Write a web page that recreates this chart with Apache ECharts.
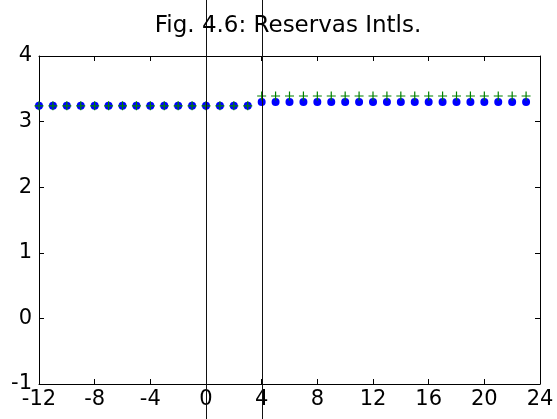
<!DOCTYPE html>
<html>
<head>
<meta charset="utf-8">
<script src="https://cdn.jsdelivr.net/npm/echarts@6/dist/echarts.min.js"></script>
<style>
html,body{margin:0;padding:0;background:#fff;}
#c{width:557px;height:419px;}
</style>
</head>
<body>
<div id="c"></div>
<script>
// Data
var periods = [-12,-11,-10,-9,-8,-7,-6,-5,-4,-3,-2,-1,0,1,2,3,4,5,6,7,8,9,10,11,12,13,14,15,16,17,18,19,20,21,22,23];
var blueDots = [3.24,3.24,3.24,3.24,3.24,3.24,3.24,3.24,3.24,3.24,3.24,3.24,3.24,3.24,3.24,3.24,
                3.30,3.30,3.30,3.30,3.30,3.30,3.30,3.30,3.30,3.30,3.30,3.30,3.30,3.30,3.30,3.30,3.30,3.30,3.30,3.30];
var greenPlus = [3.24,3.24,3.24,3.24,3.24,3.24,3.24,3.24,3.24,3.24,3.24,3.24,3.24,3.24,3.24,3.24,
                 3.39,3.39,3.39,3.39,3.39,3.39,3.39,3.39,3.39,3.39,3.39,3.39,3.39,3.39,3.39,3.39,3.39,3.39,3.39,3.39];
var verticalLines = [0, 4];
var titleText = 'Fig. 4.6: Reservas Intls.';

var FONT = 'DejaVu Sans';
function pairs(xs, ys){ return xs.map(function(x,i){ return [x, ys[i]]; }); }

var chart = echarts.init(document.getElementById('c'), null, {renderer:'canvas'});
var axisCommon = {
  axisLine:{show:true, onZero:false, lineStyle:{color:'#000', width:1}},
  axisTick:{show:true, inside:true, length:5, lineStyle:{color:'#000', width:1}},
  splitLine:{show:false}
};
chart.setOption({
  backgroundColor:'#fff',
  animation:false,
  title:{
    text:titleText, left:283, top:10, textAlign:'center',
    textStyle:{fontFamily:FONT, fontSize:23, fontWeight:'normal', color:'#000'}
  },
  grid:{left:39, right:17, top:56, bottom:35, containLabel:false},
  xAxis:[
    Object.assign({type:'value', position:'bottom', min:-12, max:24, interval:4,
      axisLabel:{show:true, margin:5, fontFamily:FONT, fontSize:21, color:'#000'}}, axisCommon),
    Object.assign({type:'value', position:'top', min:-12, max:24, interval:4,
      axisLabel:{show:false}}, axisCommon)
  ],
  yAxis:[
    Object.assign({type:'value', position:'left', min:-1, max:4, interval:1,
      axisLabel:{show:true, margin:7, fontFamily:FONT, fontSize:21, color:'#000'}}, axisCommon),
    Object.assign({type:'value', position:'right', min:-1, max:4, interval:1,
      axisLabel:{show:false}}, axisCommon)
  ],
  series:[
    {
      type:'scatter', data:pairs(periods, blueDots), symbol:'circle', symbolSize:8,
      itemStyle:{color:'#0000ff', opacity:1}, z:3
    },
    {
      type:'scatter', data:pairs(periods, greenPlus),
      symbol:'path://M0,5L10,5M5,0L5,10', symbolSize:9,
      itemStyle:{color:'none', borderColor:'#008000', borderWidth:1.2, opacity:1}, z:4
    },
    {
      type:'custom', clip:false, z:5,
      data:verticalLines.map(function(v){ return [v]; }),
      encode:{x:0},
      renderItem:function(params, api){
        var x = Math.round(api.coord([api.value(0), 0])[0]) + 0.5;
        return {type:'line', shape:{x1:x, y1:0, x2:x, y2:api.getHeight()},
                style:{stroke:'#111', lineWidth:1}};
      }
    }
  ]
});
</script>
</body>
</html>
